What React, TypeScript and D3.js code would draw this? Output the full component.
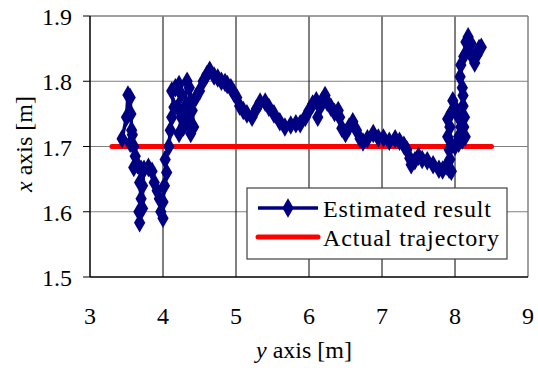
import React from "react";
import * as d3 from "d3";

const xTicks = [3, 4, 5, 6, 7, 8, 9];
const yTicks = [1.5, 1.6, 1.7, 1.8, 1.9];
const seriesNames = ["Estimated result", "Actual trajectory"];

// Estimated result: [y axis value (horizontal), x axis value (vertical)]
const estimated: [number, number][] = [
  [3.44, 1.712], [3.5, 1.745], [3.52, 1.779], [3.55, 1.775], [3.56, 1.75], [3.57, 1.725],
  [3.55, 1.705], [3.58, 1.718], [3.6, 1.7], [3.62, 1.685], [3.6, 1.668], [3.65, 1.672],
  [3.7, 1.665], [3.68, 1.645], [3.7, 1.62], [3.67, 1.6], [3.68, 1.583], [3.72, 1.605],
  [3.72, 1.64], [3.74, 1.665], [3.8, 1.668], [3.85, 1.662], [3.88, 1.645], [3.92, 1.632],
  [3.95, 1.62], [3.97, 1.6], [4.0, 1.59], [4.0, 1.615], [4.02, 1.64], [4.05, 1.66],
  [4.03, 1.68], [4.08, 1.7], [4.1, 1.725], [4.12, 1.745], [4.15, 1.76], [4.12, 1.785],
  [4.17, 1.79], [4.22, 1.795], [4.25, 1.78], [4.2, 1.76], [4.25, 1.745], [4.22, 1.72],
  [4.28, 1.73], [4.3, 1.76], [4.33, 1.8], [4.36, 1.79], [4.38, 1.77], [4.35, 1.745],
  [4.3, 1.74], [4.38, 1.72], [4.42, 1.73], [4.4, 1.755], [4.45, 1.775], [4.5, 1.785],
  [4.55, 1.8], [4.6, 1.81], [4.64, 1.817], [4.7, 1.808], [4.75, 1.805], [4.8, 1.8],
  [4.85, 1.798], [4.88, 1.795], [4.93, 1.79], [4.97, 1.782], [5.01, 1.775], [5.05, 1.762],
  [5.1, 1.755], [5.15, 1.75], [5.22, 1.745], [5.28, 1.758], [5.33, 1.768], [5.4, 1.768],
  [5.45, 1.76], [5.52, 1.75], [5.6, 1.738], [5.67, 1.73], [5.75, 1.733], [5.82, 1.735],
  [5.88, 1.735], [5.95, 1.745], [6.0, 1.755], [6.05, 1.765], [6.1, 1.77], [6.15, 1.76],
  [6.12, 1.745], [6.18, 1.77], [6.22, 1.778], [6.25, 1.768], [6.3, 1.76], [6.35, 1.752],
  [6.4, 1.755], [6.42, 1.745], [6.45, 1.728], [6.5, 1.72], [6.55, 1.73], [6.6, 1.738],
  [6.65, 1.725], [6.7, 1.712], [6.74, 1.707], [6.8, 1.712], [6.88, 1.72], [6.95, 1.713],
  [7.02, 1.713], [7.1, 1.708], [7.18, 1.712], [7.24, 1.708], [7.3, 1.702], [7.34, 1.695],
  [7.38, 1.682], [7.4, 1.672], [7.45, 1.678], [7.5, 1.685], [7.55, 1.68], [7.62, 1.678],
  [7.7, 1.672], [7.78, 1.665], [7.83, 1.664], [7.88, 1.67], [7.92, 1.665], [7.95, 1.662],
  [7.93, 1.68], [7.92, 1.695], [7.95, 1.703], [7.9, 1.715], [7.93, 1.73], [7.9, 1.742],
  [7.95, 1.752], [7.97, 1.77], [8.0, 1.76], [8.05, 1.745], [8.08, 1.73], [8.05, 1.715],
  [8.0, 1.7], [8.05, 1.705], [8.1, 1.71], [8.14, 1.715], [8.12, 1.73], [8.13, 1.745],
  [8.11, 1.762], [8.11, 1.778], [8.1, 1.79], [8.07, 1.807], [8.08, 1.825], [8.12, 1.838],
  [8.15, 1.86], [8.18, 1.868], [8.22, 1.858], [8.2, 1.845], [8.25, 1.835], [8.27, 1.828],
  [8.3, 1.84], [8.33, 1.85], [8.36, 1.852], [8.32, 1.845],
];

const actual: [number, number][] = [
  [3.3, 1.7], [8.5, 1.7],
];

const W = 538;
const H = 372;
const left = 90, right = 528, top = 16, bottom = 277;

const ts: React.CSSProperties = { fontFamily: "Liberation Serif", fontSize: 24 };

export default function App() {
  const x = d3.scaleLinear().domain([3, 9]).range([left, right]);
  const y = d3.scaleLinear().domain([1.5, 1.9]).range([bottom, top]);
  const line = d3.line<[number, number]>().x((d) => x(d[0])).y((d) => y(d[1]));
  const diamond = d3.symbol().type(d3.symbolDiamond).size(110)();

  const legX = 247, legY = 188, legW = 260, legH = 71;

  return (
    <svg width={W} height={H} style={{ position: "absolute", left: 0, top: 0, background: "#fff" }}>
      <rect x={0} y={0} width={W} height={H} fill="#fff" />
      {yTicks.slice(1, -1).map((t) => (
        <line key={"hy" + t} x1={left} x2={right} y1={y(t)} y2={y(t)} stroke="#808080" strokeWidth={1} />
      ))}
      {xTicks.slice(1, -1).map((t) => (
        <line key={"vx" + t} x1={x(t)} x2={x(t)} y1={top} y2={bottom} stroke="#000" strokeWidth={1} />
      ))}
      <line x1={left} x2={right} y1={top} y2={top} stroke="#808080" strokeWidth={1.5} />
      <line x1={right} x2={right} y1={top} y2={bottom} stroke="#808080" strokeWidth={1.5} />
      <line x1={left} x2={left} y1={top} y2={bottom} stroke="#000" strokeWidth={1.5} />
      <line x1={left} x2={right} y1={bottom} y2={bottom} stroke="#000" strokeWidth={1.5} />
      {yTicks.map((t) => (
        <g key={"yt" + t}>
          <line x1={left - 7} x2={left} y1={y(t)} y2={y(t)} stroke="#000" strokeWidth={1} />
          <text x={left - 18} y={y(t) + 9} textAnchor="end" style={ts}>
            {t.toFixed(1)}
          </text>
        </g>
      ))}
      {xTicks.map((t) => (
        <text key={"xt" + t} x={x(t)} y={324} textAnchor="middle" style={ts}>
          {t}
        </text>
      ))}
      <text x={304} y={358} textAnchor="middle" style={ts}>
        <tspan fontStyle="italic">y</tspan> axis [m]
      </text>
      <text transform={`translate(32, 144) rotate(-90)`} textAnchor="middle" style={ts}>
        <tspan fontStyle="italic">x</tspan> axis [m]
      </text>
      <path d={line(actual) || ""} fill="none" stroke="#ff0000" strokeWidth={5} strokeLinecap="round" />
      <path d={line(estimated) || ""} fill="none" stroke="#000080" strokeWidth={3.5} strokeLinejoin="round" />
      {estimated.map((d, i) => (
        <path key={"m" + i} d={diamond || ""} transform={`translate(${x(d[0])},${y(d[1])})`} fill="#000080" />
      ))}
      <rect x={legX} y={legY} width={legW} height={legH} fill="#fff" stroke="#404040" strokeWidth={1.2} />
      <line x1={legX + 11} x2={legX + 71} y1={legY + 20} y2={legY + 20} stroke="#000080" strokeWidth={3.5} />
      <path d={diamond || ""} transform={`translate(${legX + 41},${legY + 20})`} fill="#000080" />
      <line x1={legX + 11} x2={legX + 71} y1={legY + 49} y2={legY + 49} stroke="#ff0000" strokeWidth={5} strokeLinecap="round" />
      <text x={323} y={legY + 29} style={ts} textLength={168} lengthAdjust="spacing">{seriesNames[0]}</text>
      <text x={323} y={legY + 58} style={ts} textLength={176} lengthAdjust="spacing">{seriesNames[1]}</text>
    </svg>
  );
}
